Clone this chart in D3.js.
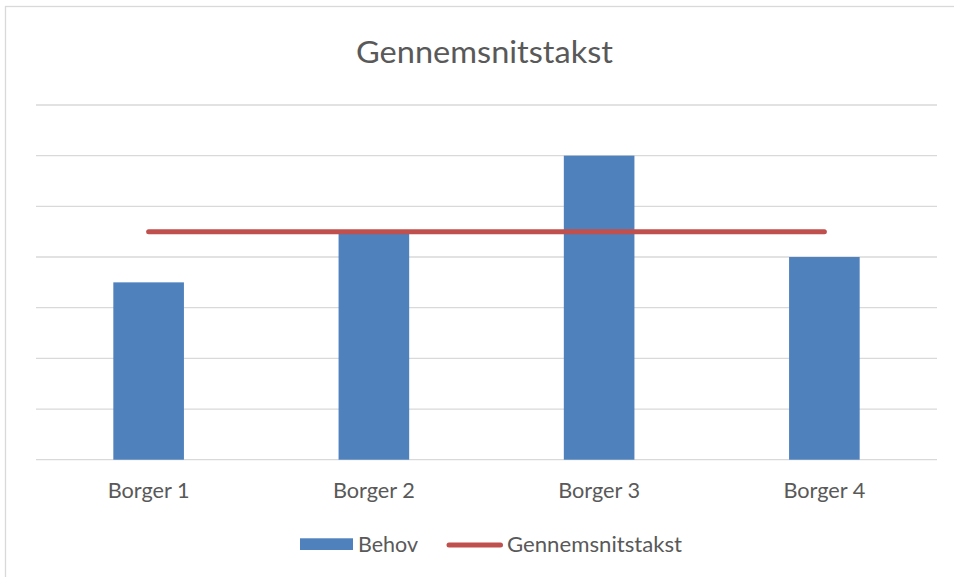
<!DOCTYPE html>
<html>
<head>
<meta charset="utf-8">
<script src="https://cdn.jsdelivr.net/npm/d3@7"></script>
<style>
  html, body { margin: 0; padding: 0; background: #fff; }
  svg { display: block; }
  text { font-family: Lato, "Open Sans", sans-serif; fill: #595959; }
</style>
</head>
<body>
<svg id="chart" width="954" height="577"></svg>
<script>
const title = "Gennemsnitstakst";
const categories = ["Borger 1", "Borger 2", "Borger 3", "Borger 4"];
const behov = [3.5, 4.5, 6, 4];
const gennemsnit = [4.5, 4.5, 4.5, 4.5];
const yTicks = [0, 1, 2, 3, 4, 5, 6, 7];
const seriesNames = ["Behov", "Gennemsnitstakst"];

const svg = d3.select("#chart");
const W = 954, H = 577;
const plot = { left: 36, right: 937, top: 105, bottom: 459.7 };
const barColor = "#4F81BD", lineColor = "#C0504D", gridColor = "#d9d9d9";

// outer border
svg.append("rect").attr("x", 5.5).attr("y", 6.5).attr("width", W).attr("height", H)
  .attr("fill", "#fff").attr("stroke", gridColor).attr("stroke-width", 1.3);

const x = d3.scaleBand().domain(categories).range([plot.left, plot.right]).padding(0);
const y = d3.scaleLinear().domain([0, 7]).range([plot.bottom, plot.top]);

// gridlines
svg.append("g").selectAll("line").data(yTicks).join("line")
  .attr("x1", plot.left).attr("x2", plot.right)
  .attr("y1", d => y(d)).attr("y2", d => y(d))
  .attr("stroke", gridColor).attr("stroke-width", 1.3);

// bars
const barW = x.bandwidth() / (1 + 2.19);
svg.append("g").selectAll("rect").data(behov).join("rect")
  .attr("x", (d, i) => x(categories[i]) + x.bandwidth() / 2 - barW / 2)
  .attr("y", d => y(d))
  .attr("width", barW)
  .attr("height", d => y(0) - y(d))
  .attr("fill", barColor);

// average line
const line = d3.line()
  .x((d, i) => x(categories[i]) + x.bandwidth() / 2)
  .y(d => y(d));
svg.append("path").datum(gennemsnit).attr("d", line)
  .attr("fill", "none").attr("stroke", lineColor).attr("stroke-width", 5)
  .attr("stroke-linecap", "round");

// category labels
svg.append("g").selectAll("text").data(categories).join("text")
  .attr("x", d => x(d) + x.bandwidth() / 2)
  .attr("y", 498.3)
  .attr("text-anchor", "middle")
  .attr("font-size", 21)
  .attr("textLength", 82).attr("lengthAdjust", "spacingAndGlyphs")
  .text(d => d);

// title
svg.append("text").attr("x", 484.5).attr("y", 63).attr("text-anchor", "middle")
  .attr("font-size", 31.5)
  .attr("textLength", 257).attr("lengthAdjust", "spacingAndGlyphs")
  .text(title);

// legend
const lg = svg.append("g");
lg.append("rect").attr("x", 300).attr("y", 538.3).attr("width", 53).attr("height", 11.7).attr("fill", barColor);
lg.append("text").attr("x", 358).attr("y", 551.7).attr("font-size", 21)
  .attr("textLength", 60).attr("lengthAdjust", "spacingAndGlyphs").text(seriesNames[0]);
lg.append("line").attr("x1", 449).attr("x2", 500.5).attr("y1", 545).attr("y2", 545)
  .attr("stroke", lineColor).attr("stroke-width", 5).attr("stroke-linecap", "round");
lg.append("text").attr("x", 507).attr("y", 551.7).attr("font-size", 21)
  .attr("textLength", 175).attr("lengthAdjust", "spacingAndGlyphs").text(seriesNames[1]);
</script>
</body>
</html>
